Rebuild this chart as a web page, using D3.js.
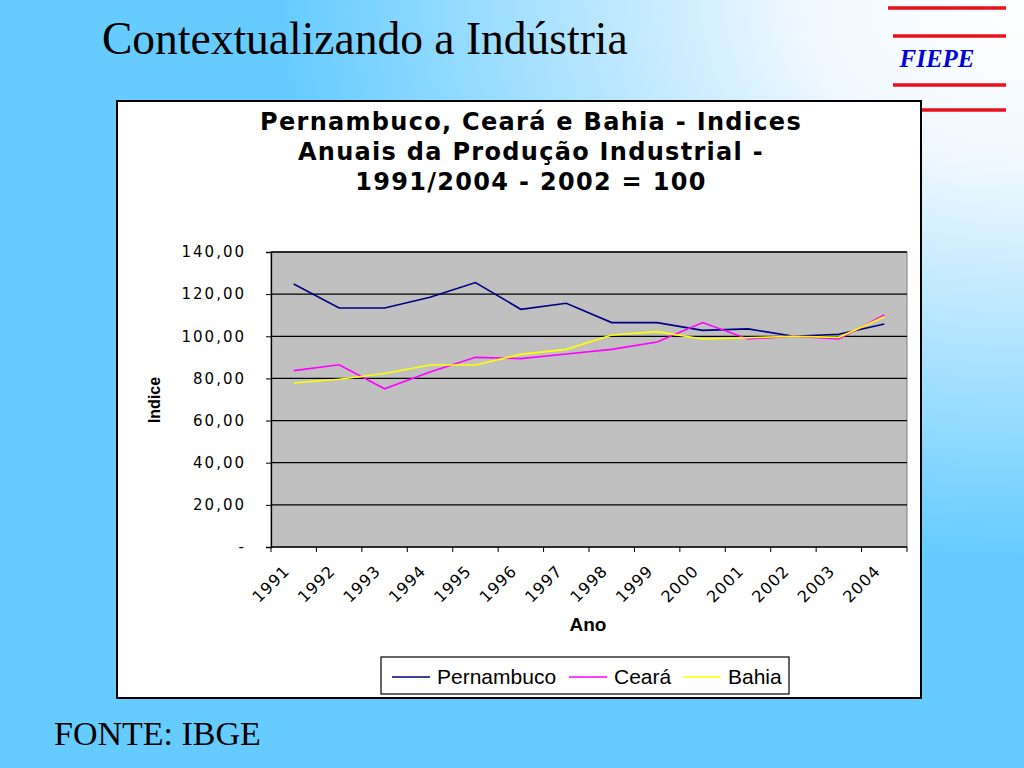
<!DOCTYPE html>
<html>
<head>
<meta charset="utf-8">
<script src="https://cdn.jsdelivr.net/npm/d3@7"></script>
<style>
  body { margin: 0; overflow: hidden; }
</style>
</head>
<body>
<script>
const years = ["1991","1992","1993","1994","1995","1996","1997","1998","1999","2000","2001","2002","2003","2004"];
const pernambuco = [124.8,113.4,113.4,118.5,125.5,112.8,115.7,106.5,106.5,102.8,103.5,100.0,101.0,105.8];
const ceara = [83.7,86.5,75.1,83.0,90.0,89.4,91.6,93.8,97.3,106.5,98.7,100.0,98.7,110.1];
const bahia = [77.8,79.6,82.3,86.4,86.4,91.4,93.8,100.6,102.2,98.7,99.3,100.0,99.5,109.3];
const seriesNames = ["Pernambuco","Ceará","Bahia"];
const seriesColors = ["#000080","#ff00ff","#ffff00"];
const yTicks = [0,20,40,60,80,100,120,140];
const titleLines = ["Pernambuco, Ceará e Bahia - Indices","Anuais da Produção Industrial -","1991/2004 - 2002 = 100"];

const width = 1024, height = 768;

const svg = d3.select("body").append("svg")
    .attr("width", width)
    .attr("height", height);

// slide background
const grad = svg.append("defs").append("radialGradient")
    .attr("id", "bg")
    .attr("cx", 1).attr("cy", 0).attr("r", 0.85);
grad.append("stop").attr("offset", 0).attr("stop-color", "#ffffff");
grad.append("stop").attr("offset", 0.25).attr("stop-color", "#f0f8ff");
grad.append("stop").attr("offset", 0.85).attr("stop-color", "#66ccff");
grad.append("stop").attr("offset", 1).attr("stop-color", "#66ccff");

svg.append("rect")
    .attr("width", width).attr("height", height)
    .attr("fill", "url(#bg)");

svg.append("text")
    .attr("x", 102).attr("y", 54)
    .style("font-family", "'Liberation Serif', 'Times New Roman', serif")
    .style("font-size", "45.5px")
    .text("Contextualizando a Indústria");

// FIEPE logo
[8, 36, 85, 110].forEach(function(yy, i) {
    svg.append("line")
        .attr("x1", i % 3 === 0 ? 888 : 893).attr("x2", 1006)
        .attr("y1", yy).attr("y2", yy)
        .attr("stroke", "#e8101a").attr("stroke-width", 3.5);
});
svg.append("text")
    .attr("x", 937).attr("y", 67)
    .attr("text-anchor", "middle")
    .style("font-family", "'Liberation Serif', serif")
    .style("font-style", "italic").style("font-weight", "bold")
    .style("font-size", "25px")
    .attr("fill", "#0000dd")
    .text("FIEPE");

svg.append("text")
    .attr("x", 54).attr("y", 745)
    .style("font-family", "'Liberation Serif', serif")
    .style("font-size", "34px")
    .text("FONTE: IBGE");

// chart frame
svg.append("rect")
    .attr("x", 117).attr("y", 101)
    .attr("width", 804).attr("height", 597)
    .attr("fill", "#fff").attr("stroke", "#000").attr("stroke-width", 2);

svg.append("g").selectAll("text")
    .data(titleLines)
    .join("text")
    .attr("x", 531)
    .attr("y", (d, i) => 130 + i * 30)
    .attr("text-anchor", "middle")
    .style("font-family", "'DejaVu Sans', Verdana, sans-serif")
    .style("font-weight", "bold")
    .style("font-size", "24px")
    .style("letter-spacing", "1.3px")
    .text(d => d);

const plot = { left: 271, right: 907, top: 252, bottom: 547 };

const x = d3.scaleBand().domain(years).range([plot.left, plot.right]).padding(0);
const y = d3.scaleLinear().domain([0, 140]).range([plot.bottom, plot.top]);
const cx = d => x(d) + x.bandwidth() / 2;

svg.append("rect")
    .attr("x", plot.left).attr("y", plot.top)
    .attr("width", plot.right - plot.left).attr("height", plot.bottom - plot.top)
    .attr("fill", "#c0c0c0")
    .attr("stroke", "#808080");

svg.append("g").selectAll("line")
    .data(yTicks.slice(1))
    .join("line")
    .attr("x1", plot.left).attr("x2", plot.right)
    .attr("y1", d => y(d)).attr("y2", d => y(d))
    .attr("stroke", "#000").attr("stroke-width", 1.3);

// y axis
const yAxis = svg.append("g")
    .attr("transform", `translate(${plot.left},0)`)
    .call(d3.axisLeft(y).tickValues(yTicks).tickSize(5).tickPadding(20)
        .tickFormat(d => d === 0 ? "-" : d.toFixed(2).replace(".", ",")));
yAxis.select(".domain").attr("stroke", "#000").attr("stroke-width", 1.3);
yAxis.selectAll("text")
    .style("font-family", "'DejaVu Sans', Verdana, sans-serif")
    .style("font-size", "15px")
    .style("letter-spacing", "2px")
    .attr("fill", "#000");

// x axis with ticks on band boundaries
const xAxis = svg.append("g");
xAxis.append("line")
    .attr("x1", plot.left).attr("x2", plot.right)
    .attr("y1", plot.bottom).attr("y2", plot.bottom)
    .attr("stroke", "#000").attr("stroke-width", 1.3);
xAxis.selectAll(".tk")
    .data(years.concat(["end"]))
    .join("line")
    .attr("class", "tk")
    .attr("x1", d => d === "end" ? plot.right : x(d))
    .attr("x2", d => d === "end" ? plot.right : x(d))
    .attr("y1", plot.bottom).attr("y2", plot.bottom + 5)
    .attr("stroke", "#000");
xAxis.selectAll(".lbl")
    .data(years)
    .join("text")
    .attr("class", "lbl")
    .attr("text-anchor", "end")
    .attr("transform", d => `translate(${cx(d) - 3},${plot.bottom + 25}) rotate(-45)`)
    .style("font-family", "'DejaVu Sans', Verdana, sans-serif")
    .style("font-size", "16px")
    .style("letter-spacing", "1px")
    .text(d => d);

svg.append("text")
    .attr("x", 588).attr("y", 631)
    .attr("text-anchor", "middle")
    .style("font-family", "'Liberation Sans', Arial, sans-serif")
    .style("font-weight", "bold").style("font-size", "19px")
    .text("Ano");

svg.append("text")
    .attr("transform", "translate(160,400) rotate(-90)")
    .attr("text-anchor", "middle")
    .style("font-family", "'Liberation Sans', Arial, sans-serif")
    .style("font-weight", "bold").style("font-size", "16px")
    .text("Indice");

// lines
const line = d3.line().x((d, i) => cx(years[i])).y(d => y(d));
const allSeries = [pernambuco, ceara, bahia];
svg.append("g").selectAll("path")
    .data(allSeries)
    .join("path")
    .attr("d", d => line(d))
    .attr("fill", "none")
    .attr("stroke", (d, i) => seriesColors[i])
    .attr("stroke-width", 1.6);

// legend
const legend = svg.append("g");
legend.append("rect")
    .attr("x", 381).attr("y", 657).attr("width", 408).attr("height", 37)
    .attr("fill", "#fff").attr("stroke", "#000").attr("stroke-width", 1.2);
const legendX = [392, 569, 683];
seriesNames.forEach(function(name, i) {
    legend.append("line")
        .attr("x1", legendX[i]).attr("x2", legendX[i] + 38)
        .attr("y1", 677).attr("y2", 677)
        .attr("stroke", seriesColors[i]).attr("stroke-width", 1.6);
    legend.append("text")
        .attr("x", legendX[i] + 45).attr("y", 684)
        .style("font-family", "'Liberation Sans', Arial, sans-serif")
        .style("font-size", "21px")
        .text(name);
});
</script>
</body>
</html>
